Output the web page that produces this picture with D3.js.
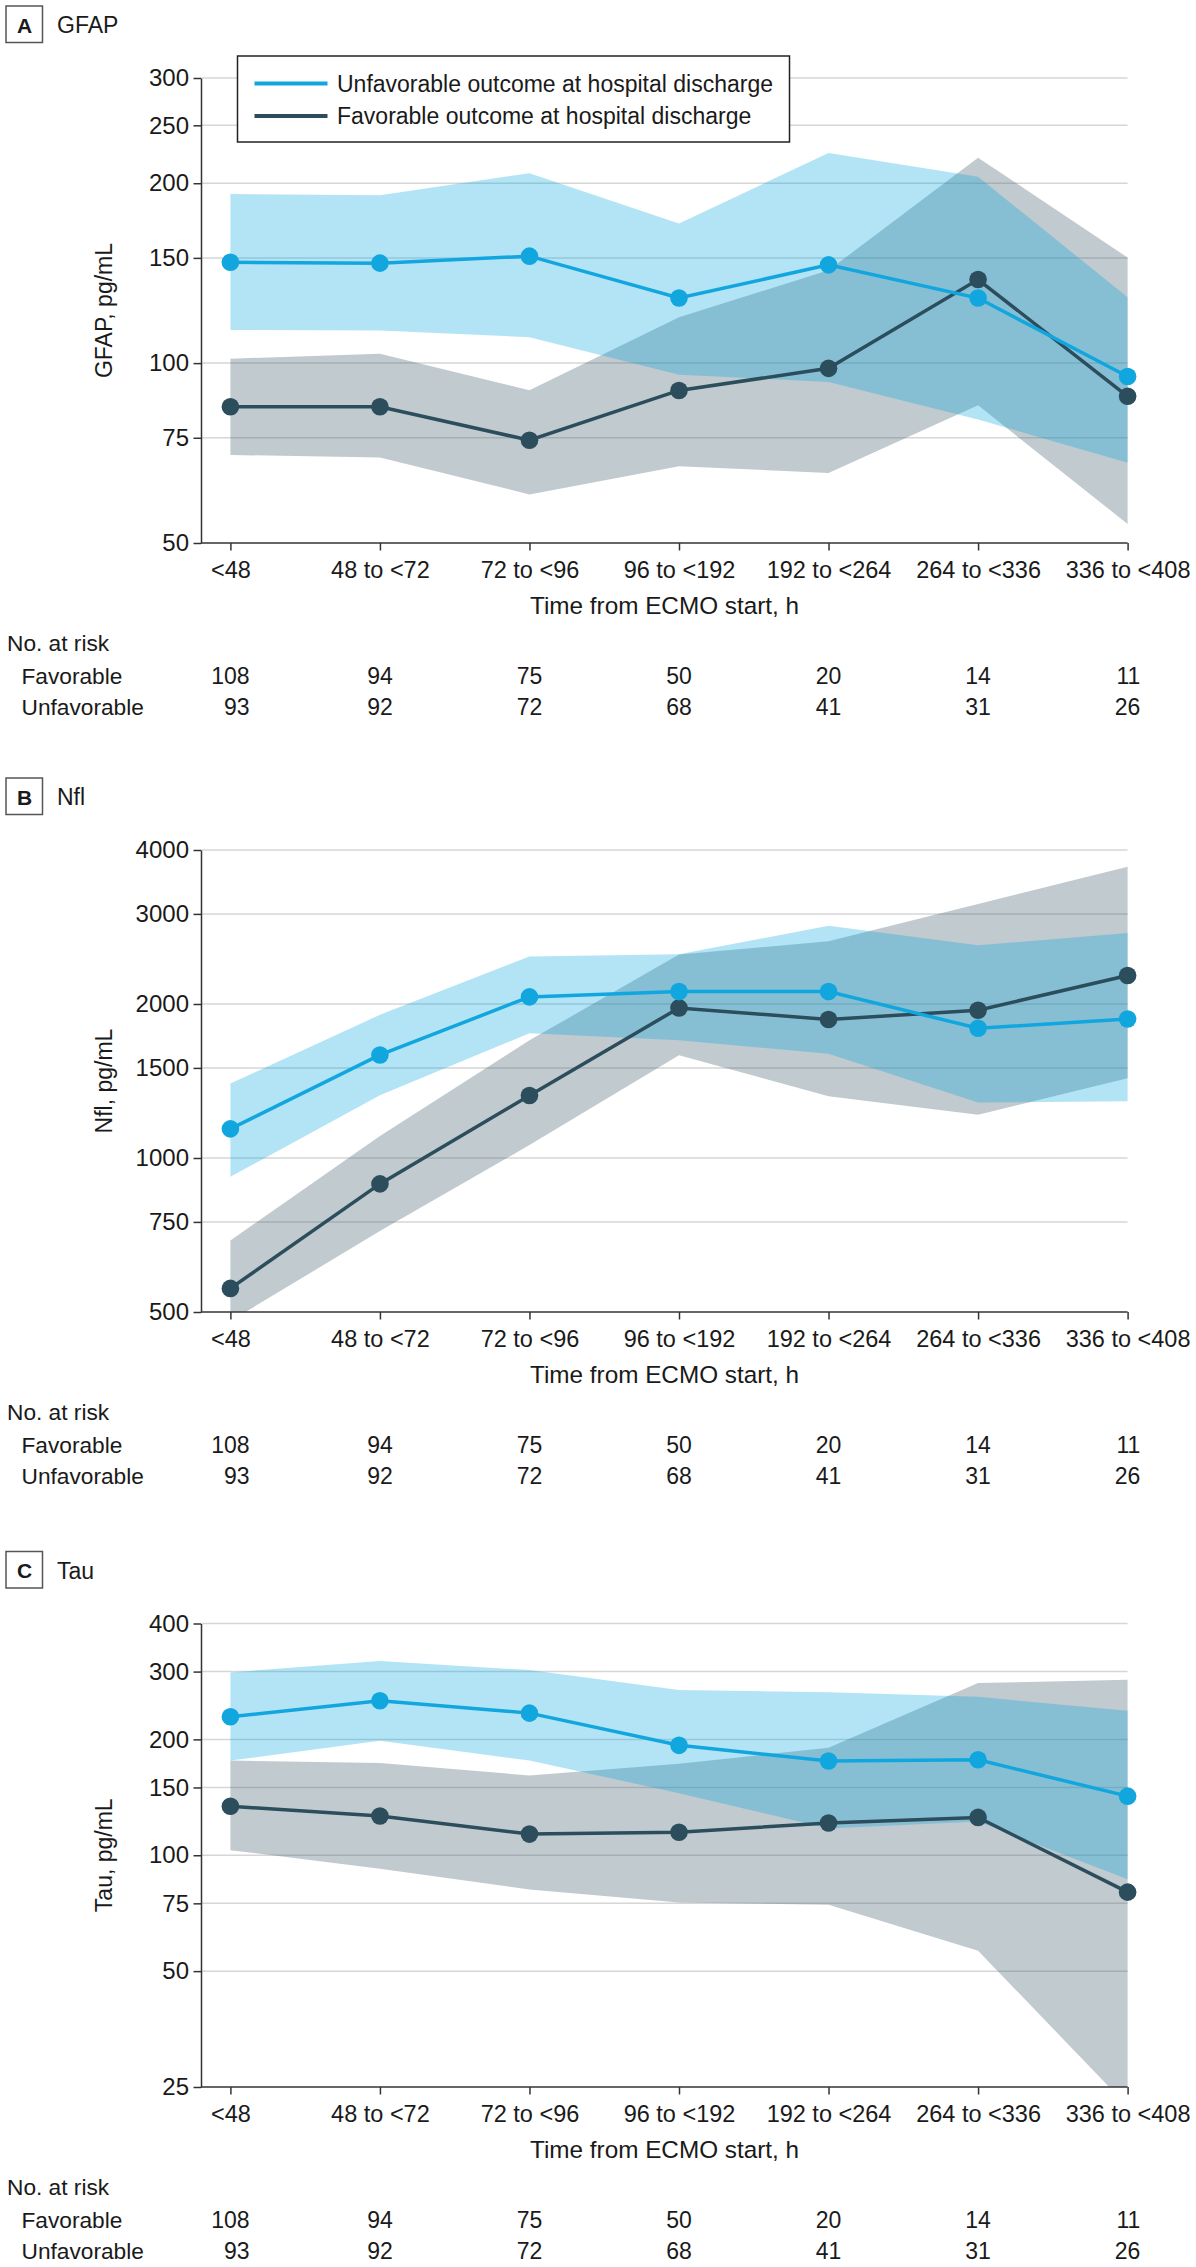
<!DOCTYPE html>
<html>
<head>
<meta charset="utf-8">
<script src="https://cdn.jsdelivr.net/npm/d3@7"></script>
<style>
  body { margin: 0; background: #fff; }
  text { font-family: "Liberation Sans", Arial, sans-serif; fill: #1a1a1a; }
</style>
</head>
<body>
<div id="graph"></div>
<script>
// Data
const categories = ['<48', '48 to <72', '72 to <96', '96 to <192', '192 to <264', '264 to <336', '336 to <408']
const favorableAtRisk = [108, 94, 75, 50, 20, 14, 11]
const unfavorableAtRisk = [93, 92, 72, 68, 41, 31, 26]

// A: GFAP
const gfapTicks = [50, 75, 100, 150, 200, 250, 300]
const gfapUnfav = [147.5, 147, 151, 128.5, 146, 128.5, 95]
const gfapUnfavLo = [113.6, 113.4, 110.5, 95.6, 93, 80.5, 68.1]
const gfapUnfavHi = [191.9, 190.9, 207.9, 171.3, 224.7, 205, 128.9]
const gfapFav = [84.5, 84.5, 74.3, 90, 98, 138, 88]
const gfapFavLo = [70.2, 69.5, 60.3, 67.2, 65.5, 85, 53.8]
const gfapFavHi = [101.7, 103.7, 90.1, 119.3, 143, 220.7, 150.2]

// B: Nfl
const nflTicks = [500, 750, 1000, 1500, 2000, 3000, 4000]
const nflUnfav = [1140, 1590, 2065, 2115, 2115, 1793, 1870]
const nflUnfavLo = [919, 1326, 1753, 1698, 1598, 1284, 1291]
const nflUnfavHi = [1398, 1905, 2478, 2502, 2843, 2604, 2753]
const nflFav = [556, 890, 1325, 1965, 1865, 1945, 2273]
const nflFavLo = [480, 720, 1060, 1588, 1320, 1215, 1432]
const nflFavHi = [690, 1104, 1698, 2498, 2654, 3138, 3710]

// C: Tau
const tauTicks = [25, 50, 75, 100, 150, 200, 300, 400]
const tauUnfav = [229, 252, 234, 193, 175.7, 177, 142.4]
const tauUnfavLo = [176.2, 198.4, 176.2, 145, 117.4, 122.3, 86.6]
const tauUnfavHi = [298.5, 319.8, 302.7, 268.8, 265, 257.9, 237.4]
const tauFav = [134, 126.5, 113.5, 114.8, 121.3, 125.4, 80.2]
const tauFavLo = [103.1, 92.3, 81.5, 75.4, 74.4, 56.5, 22.3]
const tauFavHi = [176.2, 173.7, 161.2, 172.8, 190.3, 280.2, 285.6]

const legendLabels = ['Unfavorable outcome at hospital discharge', 'Favorable outcome at hospital discharge']

// Setting up
const blue = '#12a6df'
const dark = '#2b4d5c'
const axisX = 201

const svg = d3.select('#graph').append('svg')
  .attr('width', 1196)
  .attr('height', 2267)
  .style('display', 'block')

const x = d3.scalePoint().domain(categories).range([230.4, 1127.6])

function drawPanel(p) {
  const y = d3.scaleLog().domain([p.ticks[0], p.ticks[p.ticks.length - 1]]).range([p.bottom, p.top])
  const g = svg.append('g')

  // panel letter + name
  const ty = p.top - 72
  g.append('rect')
    .attr('x', 6).attr('y', ty).attr('width', 36.5).attr('height', 36.5)
    .attr('fill', 'none').attr('stroke', '#555').attr('stroke-width', 1.5)
  g.append('text')
    .attr('x', 24.5).attr('y', ty + 19)
    .attr('text-anchor', 'middle').attr('dominant-baseline', 'central')
    .style('font-weight', 'bold').style('font-size', '21px')
    .text(p.letter)
  g.append('text')
    .attr('x', 57).attr('y', ty + 19)
    .attr('dominant-baseline', 'central')
    .style('font-size', '23px')
    .text(p.name)

  // gridlines, drawn under the bands
  g.append('g').selectAll('line')
    .data(p.ticks.slice(1))
    .join('line')
    .attr('x1', axisX).attr('x2', x.range()[1])
    .attr('y1', d => y(d)).attr('y2', d => y(d))
    .attr('stroke', '#d6d6d6').attr('stroke-width', 1.5)

  // clip so bands stop at the axis
  const clipId = 'clip' + p.letter
  svg.append('clipPath').attr('id', clipId)
    .append('rect')
    .attr('x', axisX).attr('y', p.top - 5)
    .attr('width', 1196 - axisX).attr('height', p.bottom - p.top + 5)

  const area = (lo, hi) => d3.area()
    .x((d, i) => x(categories[i]))
    .y0((d, i) => y(lo[i]))
    .y1((d, i) => y(hi[i]))(categories)

  const bands = g.append('g').attr('clip-path', `url(#${clipId})`)
  bands.append('path')
    .attr('d', area(p.favLo, p.favHi))
    .attr('fill', 'rgba(72, 100, 114, 0.34)')
  bands.append('path')
    .attr('d', area(p.unfavLo, p.unfavHi))
    .attr('fill', 'rgba(0, 166, 224, 0.3)')

  // axes
  const yAxisCall = d3.axisLeft(y)
    .tickValues(p.ticks)
    .tickFormat(d3.format('d'))
    .tickSize(7.5)
    .tickSizeOuter(0)
  const yAxis = g.append('g')
    .attr('transform', `translate(${axisX}, 0)`)
    .attr('font-family', null)
    .call(yAxisCall)
  yAxis.select('.domain').attr('stroke', '#333').attr('stroke-width', 1.5)
  yAxis.selectAll('.tick line').attr('stroke', '#333').attr('stroke-width', 1.5)
  yAxis.selectAll('.tick text')
    .attr('x', -12)
    .style('font-size', '24px')
    .attr('fill', '#1a1a1a')

  const xAxisCall = d3.axisBottom(x).tickSize(7.5).tickSizeOuter(0)
  const xAxis = g.append('g')
    .attr('transform', `translate(0, ${p.bottom})`)
    .attr('font-family', null)
    .call(xAxisCall)
  xAxis.select('.domain').remove()
  xAxis.append('line')
    .attr('x1', axisX).attr('x2', x.range()[1])
    .attr('stroke', '#333').attr('stroke-width', 1.5)
  xAxis.selectAll('.tick line').attr('stroke', '#333').attr('stroke-width', 1.5)
  xAxis.selectAll('.tick text')
    .attr('y', 18)
    .style('font-size', '23.5px')
    .attr('fill', '#1a1a1a')

  // axis titles
  g.append('text')
    .attr('transform', `translate(104, ${(p.top + p.bottom) / 2}) rotate(-90)`)
    .attr('text-anchor', 'middle').attr('dominant-baseline', 'central')
    .style('font-size', '23px')
    .text(p.yTitle)
  g.append('text')
    .attr('x', 664.5).attr('y', p.bottom + 62)
    .attr('text-anchor', 'middle').attr('dominant-baseline', 'central')
    .style('font-size', '24.3px')
    .text('Time from ECMO start, h')

  // lines and markers
  const lineGen = d3.line()
    .x((d, i) => x(categories[i]))
    .y(d => y(d))
  const series = [
    { values: p.fav, color: dark },
    { values: p.unfav, color: blue }
  ]
  series.forEach(s => {
    g.append('path')
      .attr('d', lineGen(s.values))
      .attr('fill', 'none')
      .attr('stroke', s.color)
      .attr('stroke-width', 3.5)
    g.append('g').selectAll('circle')
      .data(s.values)
      .join('circle')
      .attr('cx', (d, i) => x(categories[i]))
      .attr('cy', d => y(d))
      .attr('r', 8.8)
      .attr('fill', s.color)
  })

  // number at risk table
  g.append('text')
    .attr('x', 7).attr('y', p.bottom + 100)
    .attr('dominant-baseline', 'central')
    .style('font-size', '22.7px')
    .text('No. at risk')
  const rows = [
    { label: 'Favorable', values: favorableAtRisk, dy: 133 },
    { label: 'Unfavorable', values: unfavorableAtRisk, dy: 164 }
  ]
  rows.forEach(r => {
    g.append('text')
      .attr('x', 21.5).attr('y', p.bottom + r.dy)
      .attr('dominant-baseline', 'central')
      .style('font-size', '22.7px')
      .text(r.label)
  })
  categories.forEach((c, i) => {
    const texts = rows.map(r => g.append('text')
      .attr('y', p.bottom + r.dy)
      .attr('dominant-baseline', 'central')
      .attr('text-anchor', 'end')
      .style('font-size', '23px')
      .text(r.values[i]))
    const w = d3.max(texts, t => t.node().getComputedTextLength())
    texts.forEach(t => t.attr('x', x(c) + w / 2))
  })
}

drawPanel({
  letter: 'A', name: 'GFAP', yTitle: 'GFAP, pg/mL',
  top: 78, bottom: 543, ticks: gfapTicks,
  unfav: gfapUnfav, unfavLo: gfapUnfavLo, unfavHi: gfapUnfavHi,
  fav: gfapFav, favLo: gfapFavLo, favHi: gfapFavHi
})
drawPanel({
  letter: 'B', name: 'Nfl', yTitle: 'Nfl, pg/mL',
  top: 850, bottom: 1312, ticks: nflTicks,
  unfav: nflUnfav, unfavLo: nflUnfavLo, unfavHi: nflUnfavHi,
  fav: nflFav, favLo: nflFavLo, favHi: nflFavHi
})
drawPanel({
  letter: 'C', name: 'Tau', yTitle: 'Tau, pg/mL',
  top: 1623.5, bottom: 2087, ticks: tauTicks,
  unfav: tauUnfav, unfavLo: tauUnfavLo, unfavHi: tauUnfavHi,
  fav: tauFav, favLo: tauFavLo, favHi: tauFavHi
})

// Legend (panel A only)
const legend = svg.append('g')
legend.append('rect')
  .attr('x', 237.5).attr('y', 56).attr('width', 552).attr('height', 86)
  .attr('fill', '#fff').attr('stroke', '#222').attr('stroke-width', 1.5)
const legendColors = [blue, dark]
legendLabels.forEach((l, i) => {
  const ly = 83.5 + i * 32.5
  legend.append('line')
    .attr('x1', 254.5).attr('x2', 327.5).attr('y1', ly).attr('y2', ly)
    .attr('stroke', legendColors[i]).attr('stroke-width', 4)
  legend.append('text')
    .attr('x', 337).attr('y', ly)
    .attr('dominant-baseline', 'central')
    .style('font-size', '23px')
    .text(l)
})
</script>
</body>
</html>
